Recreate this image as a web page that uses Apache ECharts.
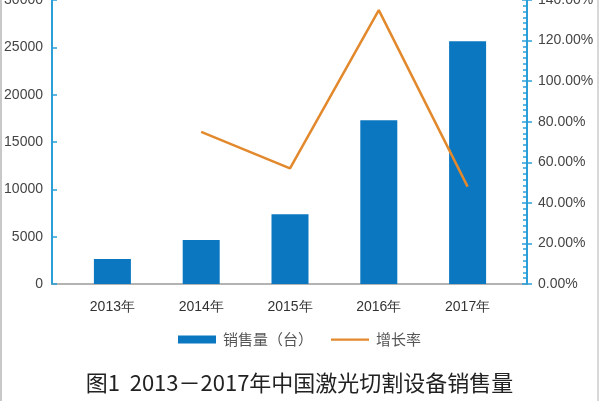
<!DOCTYPE html>
<html>
<head>
<meta charset="utf-8">
<script src="https://cdn.jsdelivr.net/npm/echarts@6/dist/echarts.min.js"></script>
<style>
html,body{margin:0;padding:0;background:#fff;}
#wrap{position:relative;width:599px;height:401px;}
#c{width:599px;height:401px;}
.edge{position:absolute;top:0;width:2px;height:401px;background:#c8c8c8;}
</style>
</head>
<body>
<div id="wrap">
<div id="c"></div>
<div class="edge" style="left:0"></div>
<div class="edge" style="right:0;width:2px;background:#d8d8d8"></div>
</div>
<script>
var categories = ['2013年', '2014年', '2015年', '2016年', '2017年'];
var salesVolume = [2650, 4650, 7380, 17300, 25650];
var growthRate = [null, 75, 57, 135, 48];
var leftTicks = [0, 5000, 10000, 15000, 20000, 25000, 30000];
var rightTicks = [0, 20, 40, 60, 80, 100, 120, 140];
var seriesNames = ['销售量（台）', '增长率'];
var chartTitle = '图1  2013－2017年中国激光切割设备销售量';

var chart = echarts.init(document.getElementById('c'));
var blue = '#2b9fd9';
var font = '"Noto Sans CJK SC", "Noto Sans", sans-serif';
var numFont = '"Liberation Sans", "Noto Sans", sans-serif';
chart.setOption({
  animation: false,
  textStyle: { fontFamily: font },
  title: {
    text: chartTitle, left: 'center', top: 367,
    textStyle: { fontSize: 22, fontWeight: 'normal', color: '#222', fontFamily: font }
  },
  legend: {
    top: 327, left: 'center', itemWidth: 38, itemHeight: 8, itemGap: 18,
    textStyle: { fontSize: 15, color: '#555', fontFamily: font, padding: [0, 0, 0, 2] },
    data: [
      { name: seriesNames[0], icon: 'rect' },
      { name: seriesNames[1], icon: 'path://M0,0H0.01V0.01H0Z M0,3H38V5.2H0Z M0,8H0.01V7.99H0Z' }
    ]
  },
  grid: [
    { left: 68, right: 87, top: 0, bottom: 117, outerBoundsMode: 'none', containLabel: false },
    { left: 52, right: 72, top: 0, bottom: 117, outerBoundsMode: 'none', containLabel: false }
  ],
  xAxis: [
    {
      type: 'category', data: categories, gridIndex: 0,
      axisLine: { show: false }, axisTick: { show: false },
      axisLabel: { color: '#333', fontSize: 14, margin: 16, fontFamily: numFont }
    },
    {
      type: 'category', data: categories, gridIndex: 1,
      axisLine: { show: true, lineStyle: { color: '#9a9a9a', width: 1.5 } },
      axisTick: { show: false }, axisLabel: { show: false }
    }
  ],
  yAxis: [
    {
      type: 'value', gridIndex: 0, position: 'left', offset: 16,
      min: leftTicks[0], max: leftTicks[leftTicks.length - 1], interval: 5000,
      axisLine: { show: true, lineStyle: { color: blue, width: 2 } },
      axisTick: { show: true, inside: true, length: 5, lineStyle: { color: blue, width: 1.5 } },
      axisLabel: { color: '#444', fontSize: 14, margin: 9, fontFamily: numFont,
        formatter: function (v) { return String(v); } },
      splitLine: { show: false }
    },
    {
      type: 'value', gridIndex: 0, position: 'right', offset: 15,
      min: rightTicks[0], max: rightTicks[rightTicks.length - 1], interval: 20,
      axisLine: { show: true, lineStyle: { color: blue, width: 2 } },
      axisTick: { show: true, inside: false, length: 5, lineStyle: { color: blue, width: 1.5 } },
      axisLabel: { color: '#444', fontSize: 14, margin: 11, fontFamily: numFont,
        formatter: function (v) { return v.toFixed(2) + '%'; } },
      splitLine: { show: false }
    },
    {
      type: 'value', gridIndex: 0, position: 'right', offset: 15,
      min: rightTicks[0], max: rightTicks[rightTicks.length - 1], interval: 20,
      axisLine: { show: false },
      axisTick: { show: true, inside: true, length: 5, lineStyle: { color: blue, width: 1.5 } },
      minorTick: { show: true, splitNumber: 7, length: 4, lineStyle: { color: blue, width: 1.5 } },
      axisLabel: { show: false },
      splitLine: { show: false }
    },
    {
      type: 'value', gridIndex: 1, show: false
    }
  ],
  series: [
    {
      name: seriesNames[0], type: 'bar', data: salesVolume, barWidth: 37,
      xAxisIndex: 0, yAxisIndex: 0,
      itemStyle: { color: '#0a77c0' }
    },
    {
      name: seriesNames[1], type: 'line', data: growthRate,
      xAxisIndex: 0, yAxisIndex: 1, symbol: 'none',
      lineStyle: { color: '#e3892d', width: 2.5 },
      itemStyle: { color: '#e3892d' }
    }
  ]
});
</script>
</body>
</html>
